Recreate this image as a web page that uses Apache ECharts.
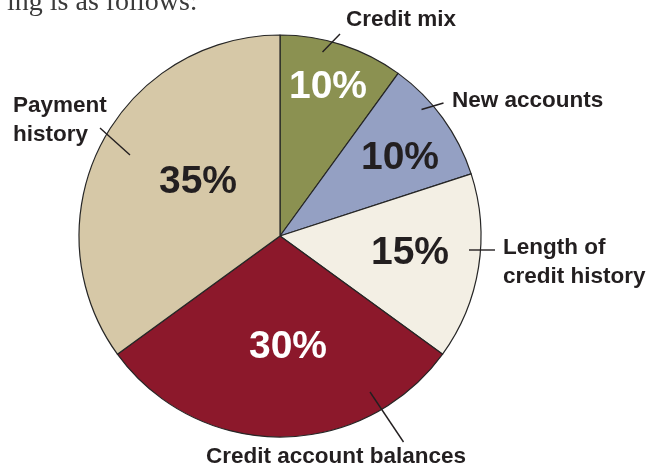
<!DOCTYPE html>
<html>
<head>
<meta charset="utf-8">
<script src="https://cdn.jsdelivr.net/npm/echarts@6/dist/echarts.min.js"></script>
<style>
html,body{margin:0;padding:0;background:#fff;}
#chart{width:657px;height:469px;}
</style>
</head>
<body>
<div id="chart"></div>
<script>
// ---- data ----
const categories = ['Credit mix', 'New accounts', 'Length of\ncredit history', 'Credit account balances', 'Payment\nhistory'];
const shares = [10, 10, 15, 30, 35];

// ---- styles ----
const sliceColors = ['#8b9151', '#94a0c3', '#f3efe4', '#8c182b', '#d6c8a7'];
const percentColors = ['#ffffff', '#231f20', '#231f20', '#ffffff', '#231f20'];
const ink = '#231f20';

// label placement (layout only)
const percentPos = [[328, 87], [400, 158], [410, 253], [288, 347], [198, 182]];
const namePos = [
  { x: 401, y: 20, align: 'center' },
  { x: 452, y: 101, align: 'left' },
  { x: 503, y: 262, align: 'left' },
  { x: 336, y: 457, align: 'center' },
  { x: 13, y: 120, align: 'left' }
];
const leaderPts = [
  [[322.5, 52], [340, 34]],
  [[421.5, 109.5], [443.5, 103]],
  [[469, 250], [495, 250]],
  [[370, 392], [403.5, 442]],
  [[130, 155], [100, 128]]
];

const pieData = categories.map((c, i) => ({
  name: c,
  value: shares[i],
  itemStyle: { color: sliceColors[i] },
  label: { color: percentColors[i] }
}));

const leaderGraphics = leaderPts.map(pts => ({
  type: 'line',
  z: 100,
  silent: true,
  shape: { x1: pts[0][0], y1: pts[0][1], x2: pts[1][0], y2: pts[1][1] },
  style: { stroke: ink, lineWidth: 1.4 }
}));

const chart = echarts.init(document.getElementById('chart'), null, { renderer: 'canvas' });
chart.setOption({
  animation: false,
  backgroundColor: '#ffffff',
  graphic: [{
    type: 'text',
    left: 7,
    top: -11,
    style: {
      text: 'ing is as follows:',
      font: '28px "Liberation Serif", "DejaVu Serif", serif',
      fill: '#3a3a3a'
    }
  }].concat(leaderGraphics),
  series: [
    {
      type: 'pie',
      center: [280, 236],
      radius: 201,
      startAngle: 90,
      clockwise: true,
      silent: true,
      itemStyle: { borderColor: '#262626', borderWidth: 1.2 },
      label: {
        show: true,
        position: 'inside',
        formatter: '{c}%',
        fontFamily: '"Liberation Sans", Arial, sans-serif',
        fontWeight: 'bold',
        fontSize: 39
      },
      labelLine: { show: false },
      labelLayout: function (p) {
        const pos = percentPos[p.dataIndex];
        return { x: pos[0], y: pos[1], align: 'center', verticalAlign: 'middle' };
      },
      data: pieData
    },
    {
      type: 'pie',
      center: [280, 236],
      radius: 201,
      startAngle: 90,
      clockwise: true,
      silent: true,
      itemStyle: { color: 'rgba(0,0,0,0)', borderWidth: 0 },
      label: {
        show: true,
        position: 'outside',
        formatter: '{b}',
        color: ink,
        overflow: 'none',
        width: 400,
        fontFamily: '"Liberation Sans", Arial, sans-serif',
        fontWeight: 'bold',
        fontSize: 22.5,
        lineHeight: 29
      },
      labelLine: { show: false },
      labelLayout: function (p) {
        const n = namePos[p.dataIndex];
        return { x: n.x, y: n.y, align: n.align, verticalAlign: 'middle' };
      },
      data: categories.map((c, i) => ({ name: c, value: shares[i] }))
    }
  ]
});
</script>
</body>
</html>
